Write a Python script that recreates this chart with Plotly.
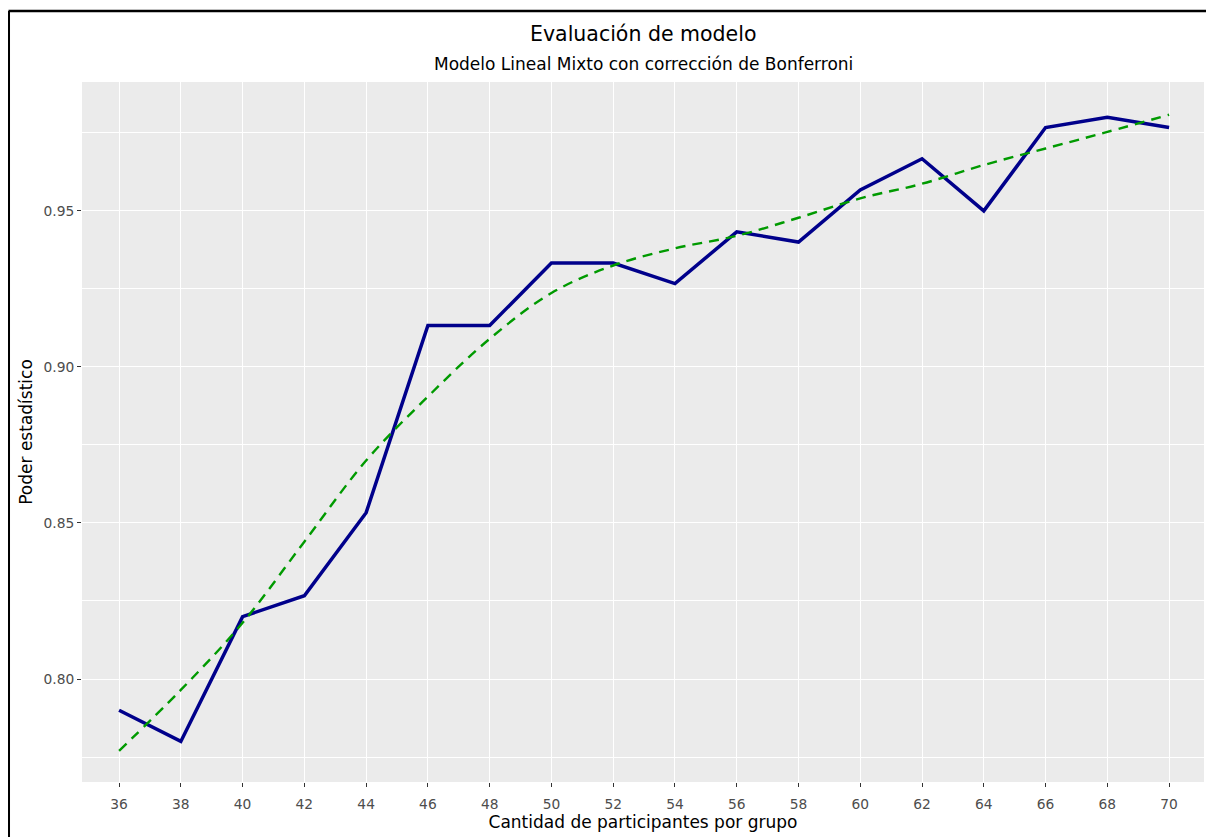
import plotly.graph_objects as go

participantes = [36, 38, 40, 42, 44, 46, 48, 50, 52, 54, 56, 58, 60, 62, 64, 66, 68, 70]
poder = [0.7900, 0.7800, 0.8200, 0.8267, 0.8533, 0.9133, 0.9133, 0.9333, 0.9333, 0.9267,
         0.9433, 0.9400, 0.9567, 0.9667, 0.9500, 0.9767, 0.9800, 0.9767]
suavizado = [0.7770, 0.7965, 0.8180, 0.8440, 0.8700, 0.8905, 0.9090, 0.9237, 0.9325, 0.9380,
             0.9420, 0.9478, 0.9540, 0.9587, 0.9647, 0.9700, 0.9753, 0.9808]

x_ticks = list(range(36, 71, 2))
y_ticks = [0.80, 0.85, 0.90, 0.95]
y_minor = [0.775, 0.825, 0.875, 0.925, 0.975]

FONT = "DejaVu Sans, Arial, sans-serif"

fig = go.Figure()
fig.add_trace(go.Scatter(x=participantes, y=poder, mode="lines",
                         line=dict(color="#00008B", width=3.5), showlegend=False))
fig.add_trace(go.Scatter(x=participantes, y=suavizado, mode="lines",
                         line=dict(color="#009A00", width=2.4, dash="10px,7px"),
                         line_shape="spline", showlegend=False))

# page body has an 8px margin, so the figure is 8px smaller and margins shifted
fig.update_layout(
    width=1206, height=829,
    margin=dict(l=74, r=10, t=74, b=55),
    paper_bgcolor="white", plot_bgcolor="#EBEBEB",
    font=dict(family=FONT, color="black"),
    xaxis=dict(range=[34.8, 71.13], tickmode="array", tickvals=x_ticks,
               ticktext=[str(v) for v in x_ticks],
               showgrid=True, gridcolor="white", gridwidth=1.2, zeroline=False,
               ticks="outside", ticklen=4, tickcolor="#333333", tickwidth=1,
               ticklabelstandoff=5,
               tickfont=dict(size=13.8, color="#4D4D4D"),
               title=dict(text="Cantidad de participantes por grupo",
                          font=dict(size=17, color="black"), standoff=5)),
    yaxis=dict(range=[0.767, 0.9913], tickmode="array", tickvals=y_ticks,
               ticktext=["0.80", "0.85", "0.90", "0.95"],
               showgrid=True, gridcolor="white", gridwidth=1.2, zeroline=False,
               ticks="outside", ticklen=4, tickcolor="#333333", tickwidth=1,
               ticklabelstandoff=0,
               tickfont=dict(size=13.8, color="#4D4D4D"),
               minor=dict(tickvals=y_minor, showgrid=True, gridcolor="white",
                          gridwidth=0.6, ticks=""),
               title=dict(text="Poder estadístico",
                          font=dict(size=17, color="black"), standoff=6)),
    annotations=[
        dict(text="Evaluación de modelo", x=0.5, y=1.0686, xref="paper", yref="paper",
             showarrow=False, font=dict(size=20.5, color="black"), yanchor="middle"),
        dict(text="Modelo Lineal Mixto con corrección de Bonferroni", x=0.5, y=1.0257,
             xref="paper", yref="paper", showarrow=False,
             font=dict(size=17, color="black"), yanchor="middle"),
    ],
    shapes=[
        dict(type="line", xref="paper", yref="paper", x0=-0.0655, x1=-0.0655,
             y0=1.1014, y1=-0.2, line=dict(color="black", width=3)),
        dict(type="line", xref="paper", yref="paper", x0=-0.0655, x1=1.02,
             y0=1.1014, y1=1.1014, line=dict(color="black", width=2.5)),
    ],
)

fig.write_html("out.html")
